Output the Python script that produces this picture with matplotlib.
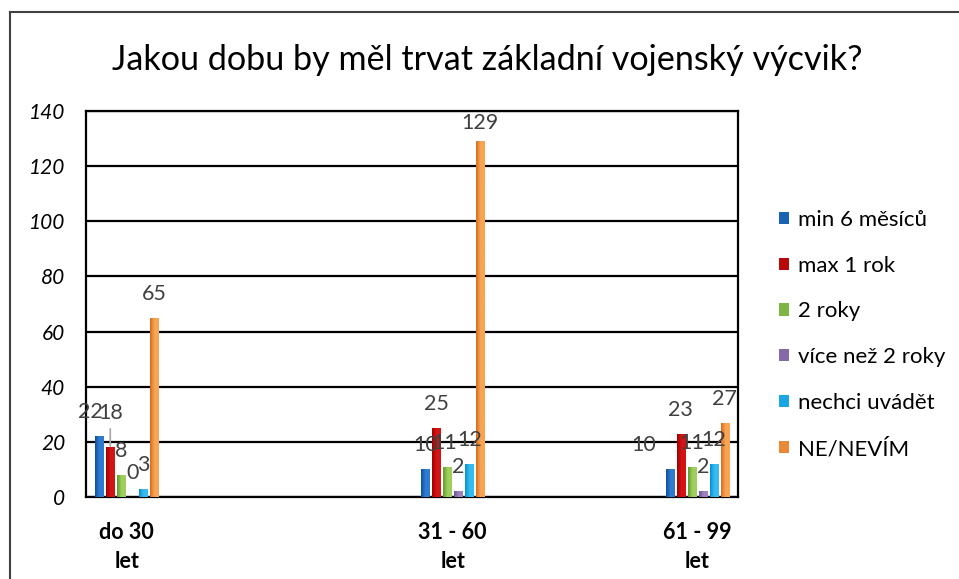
import matplotlib
matplotlib.use("Agg")
import matplotlib.pyplot as plt
import numpy as np
from matplotlib.colors import LinearSegmentedColormap
from matplotlib.patches import Patch
from matplotlib.lines import Line2D

plt.rcParams['font.family'] = ['Lato', 'DejaVu Sans']

title = "Jakou dobu by měl trvat základní vojenský výcvik?"
categories = ["do 30\nlet", "31 - 60\nlet", "61 - 99\nlet"]
series_names = ["min 6 měsíců", "max 1 rok", "2 roky", "více než 2 roky", "nechci uvádět", "NE/NEVÍM"]
min6 = [22, 10, 10]
max1 = [18, 25, 23]
roky2 = [8, 11, 11]
vice2 = [0, 2, 2]
nechci = [3, 12, 12]
ne = [65, 129, 27]
series_values = [min6, max1, roky2, vice2, nechci, ne]
y_ticks = [0, 20, 40, 60, 80, 100, 120, 140]

# layout / style
cat_pos = [0, 4, 7]          # slot positions on an 8-slot category axis
grad = [("#0B4F9C", "#2E7BCF"), ("#9E0000", "#D41414"), ("#5E9A2C", "#9ECE5C"),
        ("#6C5392", "#9C83BE"), ("#0A8DCB", "#34BCF2"), ("#D46C1C", "#F8A453")]
mid = ["#1A63B4", "#BA0808", "#7DB444", "#8468A8", "#1AA6E2", "#EA8838"]
step = 0.135
width = 0.104

W, H = 959, 579
fig = plt.figure(figsize=(W / 100, H / 100), dpi=100)
ax = fig.add_axes([86 / W, 1 - 497 / H, (738 - 86) / W, (497 - 111) / H])

# manual label nudges keyed by (series, group)
label_dx = {(0, 0): -6.5, (0, 2): -18.7, (2, 1): -2}
label_dy = {(1, 0): 24.5, (5, 1): 13}

x = np.array(cat_pos, dtype=float)
for s, vals in enumerate(series_values):
    xs = x + (s - 2.5) * step
    bars = ax.bar(xs, vals, width=width, color=mid[s], zorder=3, linewidth=0)
    cmap = LinearSegmentedColormap.from_list(f"g{s}", [grad[s][0], grad[s][1], grad[s][1]])
    for b in bars:
        if b.get_height() <= 0:
            continue
        x0, y0 = b.get_x(), b.get_y()
        im = ax.imshow(np.linspace(0, 1, 64).reshape(1, -1), cmap=cmap, aspect='auto',
                       extent=[x0, x0 + b.get_width(), y0, y0 + b.get_height()],
                       zorder=4, interpolation='bilinear')
        im.set_clip_path(b)
    for g, v in enumerate(vals):
        dx = label_dx.get((s, g), 0)
        dy = label_dy.get((s, g), 17.3)
        kw = {}
        if (s, g) == (1, 0):
            kw = dict(arrowprops=dict(arrowstyle='-', color='#A6A6A6', lw=1.2,
                                      shrinkA=2, shrinkB=1))
        ax.annotate(str(v), xy=(xs[g], v), xytext=(dx, dy), textcoords='offset points',
                    ha='center', va='center', fontsize=15.5, color='#404040', zorder=6, **kw)

ax.set_xlim(-0.5, 7.5)
ax.set_ylim(0, 140)
ax.set_yticks(y_ticks)
ax.set_yticklabels([str(t) for t in y_ticks], fontstyle='italic', fontsize=15, color='black')
ax.set_xticks(cat_pos)
ax.set_xticklabels(categories, fontweight='bold', fontsize=15.5, linespacing=1.45)
ax.tick_params(axis='y', length=0, pad=15)
ax.tick_params(axis='x', length=0, pad=18)
ax.grid(axis='y', color='black', linewidth=1.6, zorder=1)
for sp in ax.spines.values():
    sp.set_color('black')
    sp.set_linewidth(1.6)

handles = [Patch(facecolor=mid[i], edgecolor='none') for i in range(6)]
fig.legend(handles, series_names, loc='center left', bbox_to_anchor=(779 / W, 1 - 334.5 / H),
           frameon=False, fontsize=16, handlelength=0.47, handleheight=0.47,
           handletextpad=0.4, labelspacing=1.16, borderpad=0, borderaxespad=0)

fig.text(487 / W, 1 - 60 / H, title, ha='center', va='center', fontsize=24.6, color='black')

# outer chart frame (left and top edges visible)
fig.add_artist(Line2D([10 / W, 10 / W], [0, 1 - 12 / H], color='#404040', lw=1.5))
fig.add_artist(Line2D([10 / W, 1], [1 - 12 / H, 1 - 12 / H], color='#404040', lw=1.5))

fig.savefig("out.png", dpi=100)
